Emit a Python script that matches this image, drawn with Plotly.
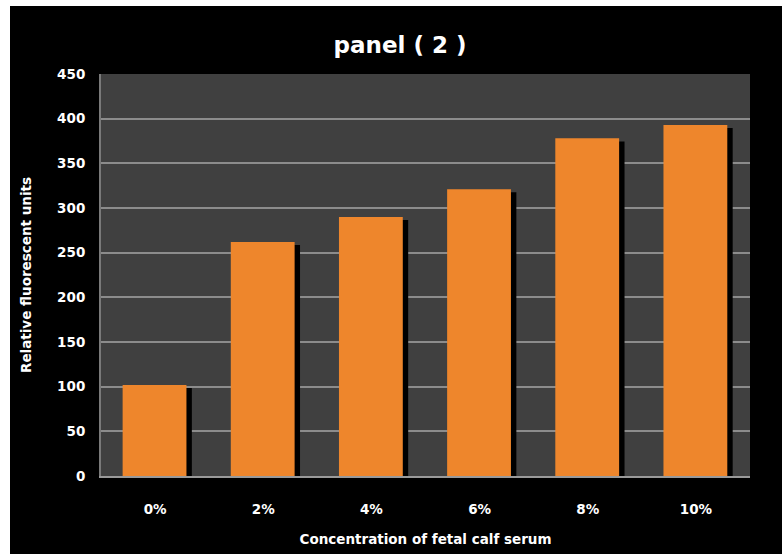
import plotly.graph_objects as go

categories = ["0%", "2%", "4%", "6%", "8%", "10%"]
values = [102, 262, 290, 321, 378, 393]
y_ticks = [0, 50, 100, 150, 200, 250, 300, 350, 400, 450]

shadow_drop = 3.5  # visual drop of the shadow top, in data units

fig = go.Figure()
# shadow
fig.add_trace(go.Bar(
    x=categories, y=[v - shadow_drop for v in values],
    width=0.59, offset=-0.25,
    marker=dict(color="#000000", line=dict(width=0)),
    hoverinfo="skip", showlegend=False,
))
# bars
fig.add_trace(go.Bar(
    x=categories, y=values,
    width=0.59, offset=-0.30,
    marker=dict(color="#ee862c", line=dict(width=0)),
    showlegend=False,
))

FONT = "DejaVu Sans"

fig.update_layout(
    width=782, height=554,
    margin=dict(l=101, r=32, t=74, b=78),
    paper_bgcolor="#000000",
    plot_bgcolor="#404040",
    barmode="overlay",
    title=dict(
        text="<b>panel ( 2 )</b>", x=(400 - 101) / 649, xref="paper", xanchor="center",
        y=1 - 45 / 554, yanchor="middle",
        font=dict(family=FONT, size=23, color="#ffffff"),
    ),
    font=dict(family=FONT, color="#ffffff"),
    xaxis=dict(
        showgrid=False, showline=True, linecolor="#9a9a9a", linewidth=2,
        mirror=False, ticks="", ticklabelstandoff=20, automargin=False,
        tickfont=dict(size=13.5, color="#ffffff", family=FONT, weight="bold"),
        title=dict(text="Concentration of fetal calf serum", standoff=18,
                   font=dict(size=13.5, color="#ffffff", family=FONT, weight="bold")),
        range=[-0.5, 5.5],
    ),
    yaxis=dict(
        range=[0, 450], tickvals=y_ticks, showgrid=True, gridcolor="#8c8c8c",
        gridwidth=2, zeroline=False, showline=True, linecolor="#7a7a7a",
        linewidth=2, ticks="", ticklabelstandoff=11, automargin=False,
        tickfont=dict(size=13.5, color="#ffffff", family=FONT, weight="bold"),
        title=dict(text="Relative fluorescent units", standoff=22,
                   font=dict(size=13.5, color="#ffffff", family=FONT, weight="bold")),
    ),
    shapes=[
        dict(type="rect", xref="paper", yref="paper", x0=-0.3, x1=(10 - 101) / 649,
             y0=-0.3, y1=1.3, fillcolor="#ffffff", line=dict(width=0), layer="above"),
        dict(type="rect", xref="paper", yref="paper", x0=-0.3, x1=1.2,
             y0=(476 - 6) / 402, y1=1.3, fillcolor="#ffffff", line=dict(width=0), layer="above"),
    ],
)

fig.write_html("out.html")
